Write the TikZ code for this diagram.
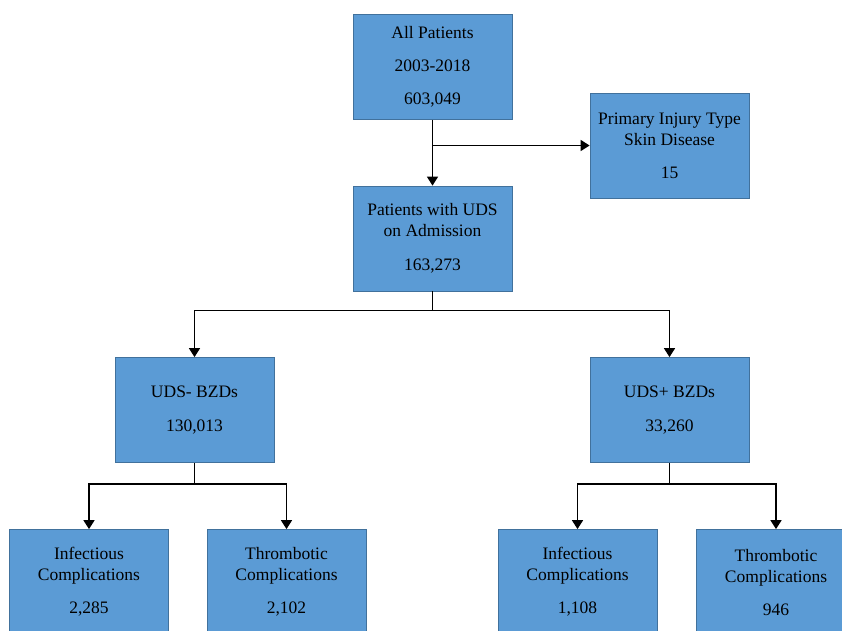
\documentclass[tikz,border=0pt]{standalone}
\usepackage{fontspec}
\setmainfont{Liberation Serif}
\usetikzlibrary{positioning, arrows.meta, calc}

\definecolor{boxfill}{RGB}{91,155,213}
\definecolor{boxline}{RGB}{65,113,156}

\begin{document}
\begin{tikzpicture}[
    x=1pt, y=-1pt,
    flowbox/.style={
        draw=boxline, fill=boxfill,
        minimum width=159pt, minimum height=105pt, inner sep=0pt,
        align=center, line width=0.8pt,
        font=\fontsize{17.5}{21}\selectfont, text=black
    },
    link/.style={line width=1.6pt, black},
    arr/.style={link, -{Triangle[length=9pt, width=11pt]}},
]

\useasboundingbox (0,0) rectangle (842,630);
\clip (0,0) rectangle (842,630);

% Column x-coordinates
\def\cM{432.5}
\def\cR{669.5}
\def\cL{194.5}
\def\cLa{89}
\def\cLb{286.5}
\def\cRa{577.5}
\def\cRb{776}

% Row y-coordinates
\def\rI{67}
\def\rP{145.5}
\def\rII{238.5}
\def\rIII{410}
\def\rIV{582}

% ====== TOP ======
\node[flowbox] (all) at (\cM, \rI) {All Patients\\[12pt]2003-2018\\[12pt]603,049};
\node[flowbox] (prim) at (\cR, \rP) {Primary Injury Type\\Skin Disease\\[12pt]15};
\node[flowbox] (uds) at (\cM, \rII) {Patients with UDS\\on Admission\\[13pt]163,273};

\draw[arr] (all.south) -- (uds.north);
\draw[arr] (all.south |- prim.west) -- (prim.west);

% ====== SPLIT BY BZDs ======
\node[flowbox] (neg) at (\cL, \rIII) {UDS- BZDs\\[13pt]130,013};
\node[flowbox] (pos) at (\cR, \rIII) {UDS+ BZDs\\[13pt]33,260};

\draw[link] (uds.south) -- ++(0,19) coordinate (s1);
\draw[arr] (s1) -| (neg.north);
\draw[arr] (s1) -| (pos.north);

% ====== COMPLICATIONS ======
\node[flowbox] (negi) at (\cLa, \rIV) {Infectious\\Complications\\[12pt]2,285};
\node[flowbox] (negt) at (\cLb, \rIV) {Thrombotic\\Complications\\[12pt]2,102};
\node[flowbox] (posi) at (\cRa, \rIV) {Infectious\\Complications\\[12pt]1,108};
\node[flowbox] (post) at (\cRb, \rIV) {Thrombotic\\Complications\\[12pt]946};

\draw[link] (neg.south) -- ++(0,21) coordinate (s2);
\draw[arr] (s2) -| (negi.north);
\draw[arr] (s2) -| (negt.north);

\draw[link] (pos.south) -- ++(0,21) coordinate (s3);
\draw[arr] (s3) -| (posi.north);
\draw[arr] (s3) -| (post.north);

\end{tikzpicture}
\end{document}
